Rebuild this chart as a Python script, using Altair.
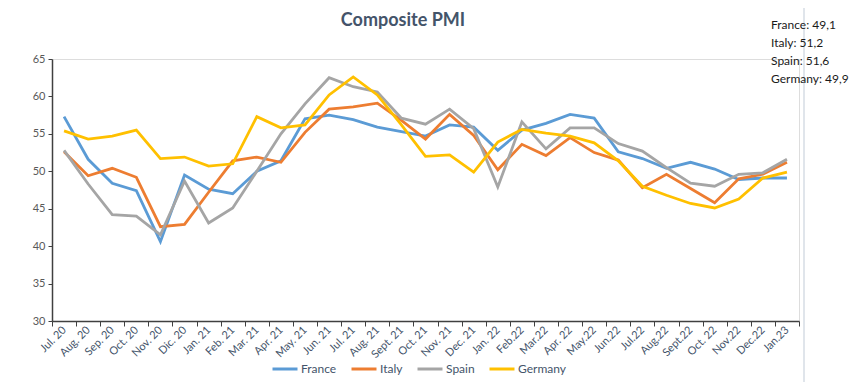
import altair as alt
import pandas as pd

months = ["Jul. 20", "Aug. 20", "Sep. 20", "Oct. 20", "Nov. 20", "Dic. 20", "Jan. 21", "Feb. 21",
          "Mar. 21", "Apr. 21", "May. 21", "Jun. 21", "Jul. 21", "Aug. 21", "Sept. 21", "Oct. 21",
          "Nov. 21", "Dec. 21", "Jan. 22", "Feb.22", "Mar.22", "Apr. 22", "May.22", "Jun.22",
          "Jul.22", "Aug.22", "Sept.22", "Oct. 22", "Nov.22", "Dec.22", "Jan.23"]

france = [57.3, 51.6, 48.4, 47.4, 40.6, 49.5, 47.6, 47.0, 50.0, 51.4, 57.0, 57.5, 56.9, 55.9, 55.3,
          54.7, 56.2, 55.9, 52.8, 55.5, 56.4, 57.6, 57.1, 52.6, 51.7, 50.4, 51.2, 50.3, 48.9, 49.1, 49.1]
italy = [52.6, 49.4, 50.4, 49.2, 42.6, 42.9, 47.2, 51.4, 51.9, 51.2, 55.2, 58.3, 58.6, 59.1, 56.8,
         54.3, 57.6, 54.8, 50.2, 53.6, 52.1, 54.5, 52.5, 51.5, 47.8, 49.6, 47.7, 45.8, 49.0, 49.6, 51.2]
spain = [52.8, 48.3, 44.2, 44.0, 41.5, 48.7, 43.1, 45.1, 50.0, 55.0, 59.0, 62.5, 61.3, 60.6, 57.1,
         56.3, 58.3, 55.7, 47.9, 56.6, 53.0, 55.8, 55.8, 53.7, 52.7, 50.5, 48.4, 48.0, 49.6, 49.8, 51.6]
germany = [55.4, 54.3, 54.7, 55.5, 51.7, 51.9, 50.7, 51.0, 57.3, 55.8, 56.2, 60.2, 62.6, 60.2, 56.2,
           52.0, 52.2, 49.9, 53.9, 55.6, 55.1, 54.7, 53.8, 51.4, 48.0, 46.8, 45.7, 45.1, 46.3, 49.1, 49.9]

countries = ["France", "Italy", "Spain", "Germany"]
colors = ["#5B9BD5", "#ED7D31", "#A5A5A5", "#FFC000"]
series = [france, italy, spain, germany]
y_ticks = [30, 35, 40, 45, 50, 55, 60, 65]

rows = []
for c, vals in zip(countries, series):
    for i, (m, v) in enumerate(zip(months, vals)):
        rows.append({"month": m, "value": v, "country": c, "idx": i})
df = pd.DataFrame(rows)

FONT = "Lato"
W, H = 747, 262

lines = alt.Chart(df).mark_line(strokeWidth=2.8).encode(
    x=alt.X("month:O", sort=months, bandPosition=0.5,
            scale=alt.Scale(type="band", paddingInner=0, paddingOuter=0),
            axis=alt.Axis(title=None, labelAngle=-45, tickBand="extent", labelFont=FONT,
                          labelFontSize=11, labelColor="#44546A", domainColor="#404040",
                          tickColor="#404040", tickSize=5, domainWidth=1.5, labelPadding=2,
                          labelAlign="right", labelBaseline="middle", grid=False)),
    y=alt.Y("value:Q", scale=alt.Scale(domain=[30, 65], nice=False, zero=False),
            axis=alt.Axis(title=None, values=y_ticks, labelFont=FONT, labelFontSize=11,
                          labelColor="#595959", domainColor="#404040", tickColor="#404040",
                          tickSize=4, domainWidth=1.5, grid=False, labelPadding=3)),
    color=alt.Color("country:N", sort=countries,
                    scale=alt.Scale(domain=countries, range=colors),
                    legend=alt.Legend(title=None, orient="none", direction="horizontal",
                                      legendX=219, legendY=296, symbolType="stroke",
                                      symbolSize=625, symbolStrokeWidth=3, labelFont=FONT,
                                      labelFontSize=12, labelColor="#44546A", labelOffset=2,
                                      columnPadding=8)),
    order=alt.Order("idx:Q"),
)

title_df = pd.DataFrame({"t": ["Composite PMI"]})
title = alt.Chart(title_df).mark_text(fontSize=18, fontWeight="bold", font=FONT,
                                      color="#44546A", align="center", baseline="middle").encode(
    text="t:N", x=alt.value(351), y=alt.value(-38))

note_text = "\n".join(f"{c}: {s[-1]:.1f}".replace(".", ",") for c, s in zip(countries, series))
note_df = pd.DataFrame({"t": [note_text]})
note = alt.Chart(note_df).mark_text(fontSize=12, font=FONT, color="#1a1a1a", align="left",
                                    baseline="top", lineBreak="\n", lineHeight=18).encode(
    text="t:N", x=alt.value(719), y=alt.value(-39))

frame = alt.Chart(title_df).mark_rule(color="#D6DCE5", strokeWidth=1.5).encode(
    x=alt.value(752), y=alt.value(-51), y2=alt.value(323))

chart = alt.layer(frame, lines, title, note).properties(
    width=W, height=H,
    autosize=alt.AutoSizeParams(type="none"),
    padding={"left": 44, "top": 51, "right": 55, "bottom": 62},
).configure_view(stroke=None).configure(background="white")

chart.save("out.html", embed_options={"renderer": "svg", "actions": False})
